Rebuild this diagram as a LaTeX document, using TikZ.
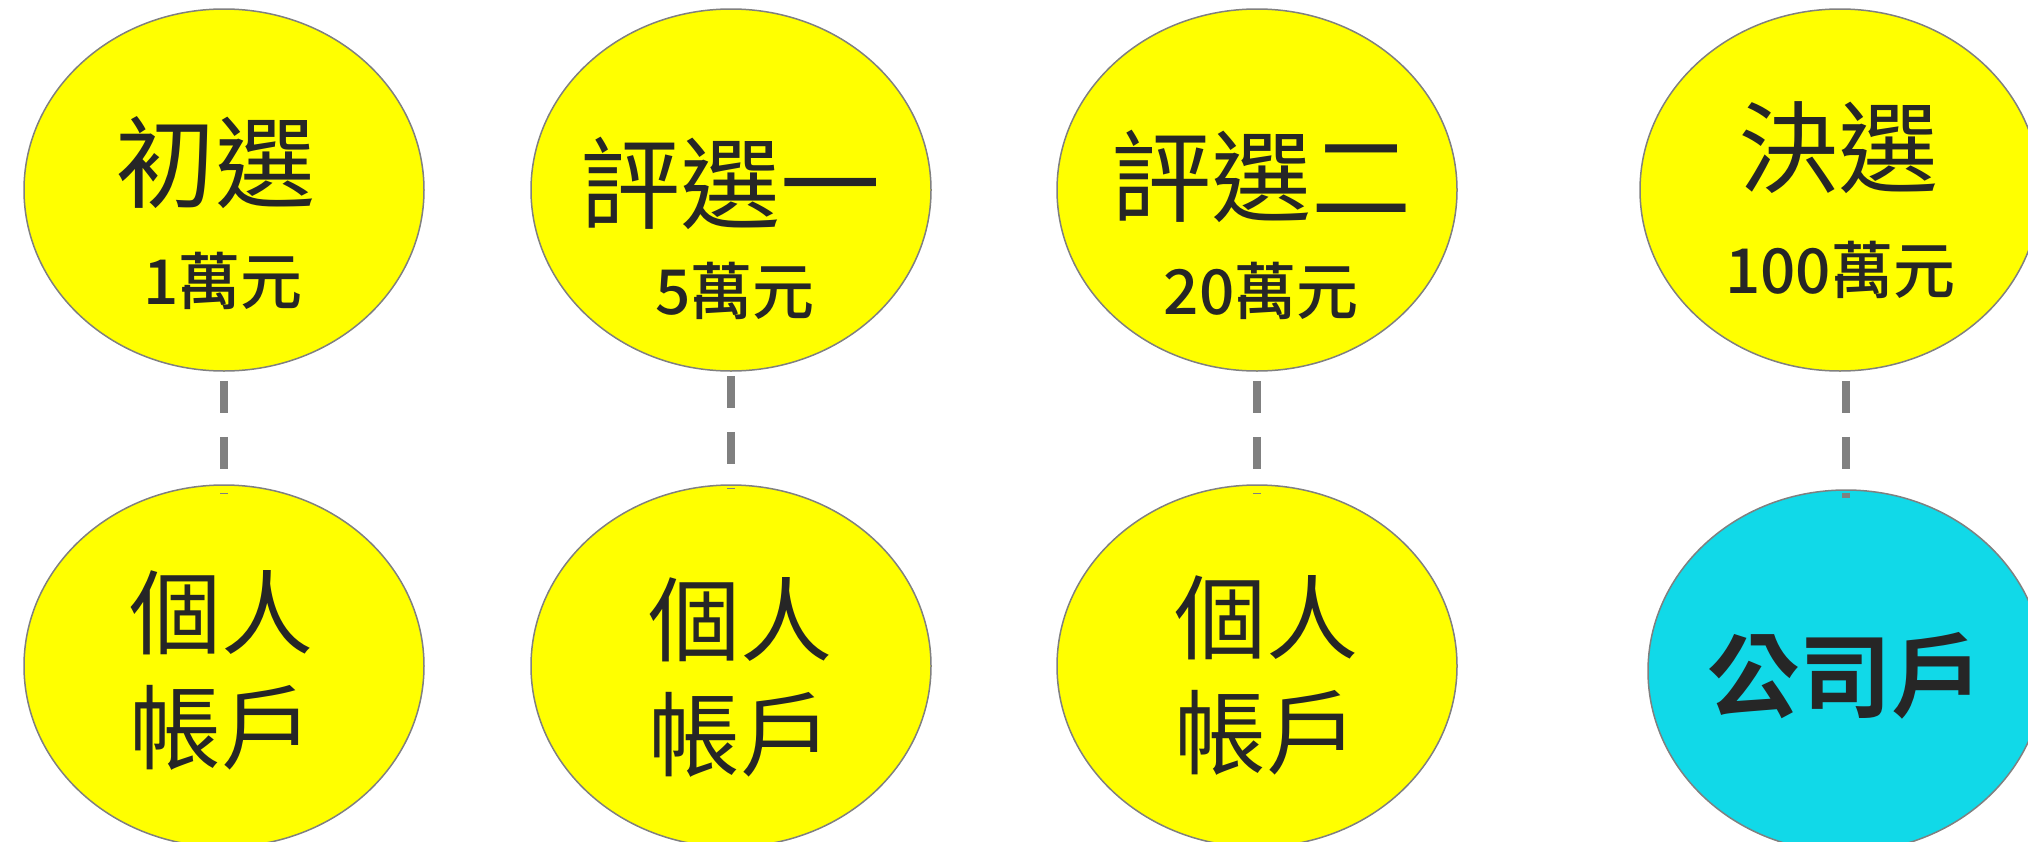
\documentclass[tikz,border=0pt]{standalone}
\usepackage{fontspec}
\setmainfont{Noto Sans CJK TC}[BoldFont={* Medium}]
\newfontface\heavyfont{Noto Sans CJK TC}[UprightFont={* Bold}]
\usetikzlibrary{shapes.geometric}
\definecolor{stageyellow}{RGB}{255,255,0}
\definecolor{corpcyan}{RGB}{17,217,232}
\definecolor{edgegray}{RGB}{128,128,128}
\definecolor{inkgray}{RGB}{38,38,38}
\tikzset{
	stage/.style={ellipse, draw=edgegray, line width=1.5pt, fill=stageyellow, minimum width=400pt, minimum height=362pt, inner sep=0pt},
	corp/.style={stage, fill=corpcyan, minimum width=396pt},
	title/.style={text=inkgray, inner sep=0pt, font=\fontsize{100}{110}\selectfont},
	prize/.style={text=inkgray, inner sep=0pt, font=\bfseries\fontsize{62}{70}\selectfont},
	acct/.style={text=inkgray, inner sep=0pt, align=center, font=\fontsize{92}{115}\selectfont},
	link/.style={draw=edgegray, line width=8pt, dash pattern=on 32pt off 24pt, shorten <=9pt, shorten >=-9pt}
}

\begin{document}
\begin{tikzpicture}[x=1pt,y=1pt,yscale=-1]
	\useasboundingbox (0,0) rectangle (2028,841);
	% stages
	\node[stage] (t1) at (224,190) {};
	\node[stage] (t2) at (731,190) {};
	\node[stage] (t3) at (1257,190) {};
	\node[stage] (t4) at (1840,190) {};
	% accounts
	\node[stage] (b1) at (224,666) {};
	\node[stage] (b2) at (731,666) {};
	\node[stage] (b3) at (1257,666) {};
	\node[corp] (b4) at (1846,671) {};
	% dashed links
	\draw[link] (t1.south) -- (b1.north);
	\draw[link, shorten <=4pt, shorten >=-4pt] (t2.south) -- (b2.north);
	\draw[link] (t3.south) -- (b3.north);
	\draw[link] (b4.north |- t4.south) -- (b4.north);
	% texts
	\node[title] (n1) at (215,163) {初選};
	\node[prize] (p1) at (223,281) {1萬元};
	\node[title] (n2) at (730,183) {評選一};
	\node[prize] (p2) at (735,291) {5萬元};
	\node[title] (n3) at (1261,176) {評選二};
	\node[prize] (p3) at (1261,291) {20萬元};
	\node[title] (n4) at (1838,148) {決選};
	\node[prize] (p4) at (1840,270) {100萬元};
	\node[acct] (a1) at (221,670) {個人\\帳戶};
	\node[acct] (a2) at (740,677) {個人\\帳戶};
	\node[acct] (a3) at (1266,675) {個人\\帳戶};
	\node[acct, font=\heavyfont\fontsize{92}{115}\selectfont] (a4) at (1845,676) {公司戶};
\end{tikzpicture}
\end{document}
